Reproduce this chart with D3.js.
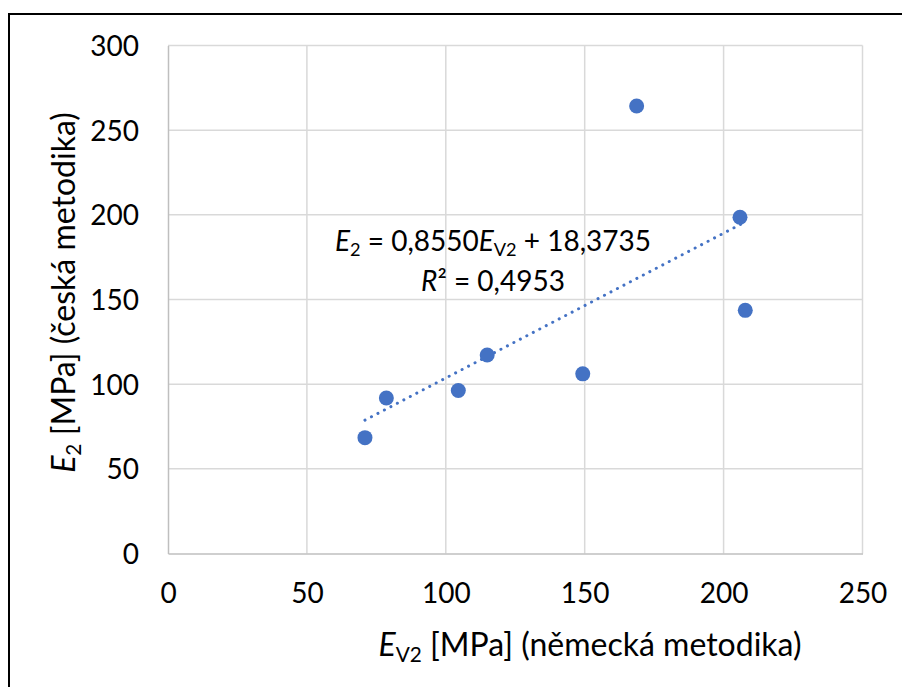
<!DOCTYPE html>
<html>
<head>
<meta charset="utf-8">
<script src="https://cdn.jsdelivr.net/npm/d3@7.9.0/dist/d3.min.js"></script>
<style>
  body { margin: 0; background: #fff; }
  svg { display: block; font-family: "Lato", "Open Sans", sans-serif; }
</style>
</head>
<body>
<svg id="chart" width="902" height="687"></svg>
<script>
// E_V2 (German method) vs E2 (Czech method), MPa
const ev2 = [70.9, 78.6, 104.5, 114.9, 149.3, 168.7, 205.9, 207.8];
const e2 = [68.4, 91.8, 96.3, 117.2, 106.1, 264.3, 198.6, 143.6];
const xTicks = [0, 50, 100, 150, 200, 250];
const yTicks = [0, 50, 100, 150, 200, 250, 300];

const width = 902, height = 687;
const margin = { top: 45.5, right: 39.5, bottom: 133.5, left: 168 };
const color = "#4472C4";
const fs = 28;      // ticks + equation
const fsTitle = 32; // axis titles

const svg = d3.select("#chart");

const x = d3.scaleLinear().domain([0, 250]).range([margin.left, width - margin.right]);
const y = d3.scaleLinear().domain([0, 300]).range([height - margin.bottom, margin.top]);

// outer frame (cropped at right and bottom)
svg.append("rect")
  .attr("x", 9).attr("y", 14)
  .attr("width", 1000).attr("height", 1000)
  .attr("fill", "none").attr("stroke", "#000").attr("stroke-width", 2);

// gridlines
svg.append("g")
  .selectAll("line")
  .data(xTicks.slice(1))
  .join("line")
  .attr("x1", (d) => x(d)).attr("x2", (d) => x(d))
  .attr("y1", y(0)).attr("y2", y(300))
  .attr("stroke", "#d9d9d9").attr("stroke-width", 1.5);

svg.append("g")
  .selectAll("line")
  .data(yTicks.slice(1))
  .join("line")
  .attr("x1", x(0)).attr("x2", x(250))
  .attr("y1", (d) => y(d)).attr("y2", (d) => y(d))
  .attr("stroke", "#d9d9d9").attr("stroke-width", 1.5);

// axes
const xAxis = svg.append("g")
  .attr("transform", `translate(0,${y(0)})`)
  .call(d3.axisBottom(x).tickValues(xTicks).tickSize(0).tickPadding(30));
const yAxis = svg.append("g")
  .attr("transform", `translate(${x(0)},0)`)
  .call(d3.axisLeft(y).tickValues(yTicks).tickSize(0).tickPadding(29));

[xAxis, yAxis].forEach((g) => {
  g.select(".domain").attr("stroke", "#bfbfbf").attr("stroke-width", 1.5);
  g.selectAll("text")
    .attr("font-family", "Lato, 'Open Sans', sans-serif")
    .attr("font-size", fs)
    .attr("fill", "#000");
});
yAxis.selectAll("text").attr("dy", "0.36em");

// linear trendline (least squares)
const mx = d3.mean(ev2), my = d3.mean(e2);
const slope = d3.sum(ev2, (v, i) => (v - mx) * (e2[i] - my)) / d3.sum(ev2, (v) => (v - mx) ** 2);
const intercept = my - slope * mx;
const ext = d3.extent(ev2);
svg.append("line")
  .attr("x1", x(ext[0])).attr("y1", y(slope * ext[0] + intercept))
  .attr("x2", x(ext[1])).attr("y2", y(slope * ext[1] + intercept))
  .attr("stroke", color).attr("stroke-width", 3)
  .attr("stroke-linecap", "round")
  .attr("stroke-dasharray", "0.1 7.2");

// points
svg.append("g")
  .selectAll("circle")
  .data(ev2.map((v, i) => [v, e2[i]]))
  .join("circle")
  .attr("cx", (d) => x(d[0]))
  .attr("cy", (d) => y(d[1]))
  .attr("r", 7.5)
  .attr("fill", color);

// equation label
const eq = svg.append("text")
  .attr("x", 493).attr("y", 251)
  .attr("text-anchor", "middle")
  .attr("font-size", fs);
eq.append("tspan").attr("font-style", "italic").text("E");
eq.append("tspan").attr("font-size", fs * 0.65).attr("dy", 5).text("2");
eq.append("tspan").attr("dy", -5).text(" = 0,8550");
eq.append("tspan").attr("font-style", "italic").text("E");
eq.append("tspan").attr("font-size", fs * 0.65).attr("dy", 5).text("V2");
eq.append("tspan").attr("dy", -5).text(" + 18,3735");

const r2 = svg.append("text")
  .attr("x", 493).attr("y", 291)
  .attr("text-anchor", "middle")
  .attr("font-size", fs);
r2.append("tspan").attr("font-style", "italic").text("R");
r2.append("tspan").text("² = 0,4953");

// axis titles
const xt = svg.append("text")
  .attr("x", 590).attr("y", 656)
  .attr("text-anchor", "middle")
  .attr("font-size", fsTitle);
xt.append("tspan").attr("font-style", "italic").text("E");
xt.append("tspan").attr("font-size", fsTitle * 0.65).attr("dy", 6).text("V2");
xt.append("tspan").attr("dy", -6).text(" [MPa] (německá metodika)");

const yt = svg.append("text")
  .attr("transform", `translate(75,${(y(0) + y(300)) / 2 - 7}) rotate(-90)`)
  .attr("text-anchor", "middle")
  .attr("font-size", fsTitle);
yt.append("tspan").attr("font-style", "italic").text("E");
yt.append("tspan").attr("font-size", fsTitle * 0.65).attr("dy", 6).text("2");
yt.append("tspan").attr("dy", -6).text(" [MPa] (česká metodika)");
</script>
</body>
</html>
